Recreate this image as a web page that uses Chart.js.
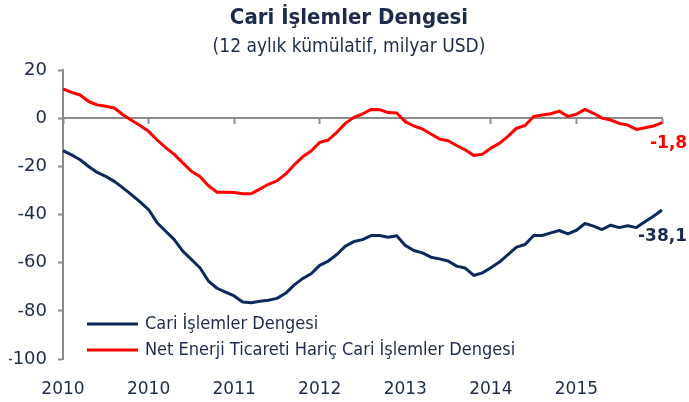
<!DOCTYPE html>
<html lang="tr">
<head>
<meta charset="utf-8">
<title>Cari İşlemler Dengesi</title>
<script src="https://cdn.jsdelivr.net/npm/chart.js@4.4.1/dist/chart.umd.min.js"></script>
<style>
  html, body { margin: 0; padding: 0; background: #fff; }
</style>
</head>
<body>
<canvas id="cariChart" width="689" height="402"></canvas>
<script>
// aylık seriler, Ocak 2010 - Kasım 2015
const months = [
    '2010-01', '2010-02', '2010-03', '2010-04', '2010-05', '2010-06', '2010-07', '2010-08', '2010-09', '2010-10', '2010-11', '2010-12',
    '2011-01', '2011-02', '2011-03', '2011-04', '2011-05', '2011-06', '2011-07', '2011-08', '2011-09', '2011-10', '2011-11', '2011-12',
    '2012-01', '2012-02', '2012-03', '2012-04', '2012-05', '2012-06', '2012-07', '2012-08', '2012-09', '2012-10', '2012-11', '2012-12',
    '2013-01', '2013-02', '2013-03', '2013-04', '2013-05', '2013-06', '2013-07', '2013-08', '2013-09', '2013-10', '2013-11', '2013-12',
    '2014-01', '2014-02', '2014-03', '2014-04', '2014-05', '2014-06', '2014-07', '2014-08', '2014-09', '2014-10', '2014-11', '2014-12',
    '2015-01', '2015-02', '2015-03', '2015-04', '2015-05', '2015-06', '2015-07', '2015-08', '2015-09', '2015-10', '2015-11'
];

const cariDenge = [
    -13.4, -15.2, -17.2, -20.0, -22.5, -24.1, -26.2, -28.9, -31.7, -34.7, -37.9,
    -43.4, -46.9, -50.4, -55.2, -58.6, -62.1, -67.6, -70.6, -72.2, -73.8, -76.3, -76.6,
    -76.0, -75.6, -74.8, -72.7, -69.3, -66.6, -64.6, -61.1, -59.3, -56.6, -53.1, -51.2, -50.4,
    -48.7, -48.7, -49.4, -48.8, -52.8, -54.9, -55.9, -57.7, -58.4, -59.3, -61.4, -62.2,
    -65.3, -64.2, -62.1, -59.7, -56.6, -53.5, -52.4, -48.7, -48.7, -47.6, -46.6, -48.0,
    -46.5, -43.7, -44.8, -46.2, -44.4, -45.4, -44.6, -45.4, -43.0, -40.7, -38.1
];

const enerjiHaricDenge = [
    12.2, 10.8, 9.7, 7.0, 5.6, 5.0, 4.3, 1.5, -0.8, -3.0, -5.4,
    -9.0, -12.2, -15.0, -18.5, -22.0, -24.2, -28.0, -30.7, -30.7, -30.8, -31.3, -31.3,
    -29.4, -27.4, -26.0, -23.2, -19.4, -16.0, -13.6, -10.0, -9.0, -5.8, -2.1, 0.4, 1.8,
    3.7, 3.6, 2.4, 2.2, -1.4, -3.2, -4.4, -6.5, -8.6, -9.3, -11.3, -13.1,
    -15.4, -14.9, -12.4, -10.4, -7.5, -4.1, -3.0, 0.8, 1.4, 1.9, 3.0, 0.8,
    1.7, 3.7, 2.1, 0.1, -0.7, -2.1, -2.8, -4.6, -3.9, -3.2, -1.8
];

const seriesNames = ['Cari İşlemler Dengesi', 'Net Enerji Ticareti Hariç Cari İşlemler Dengesi'];
const seriesColors = ['#0b2a5b', '#ff0000'];

const yMin = -100;
const yMax = 20;
const yStep = 20;
const tickEvery = 10; // her 10 ayda bir tik

const textColor = '#1c2b4b';
const axisColor = '#8c8c8c';
const condensed = "'DejaVu Sans Condensed', 'DejaVu Sans', sans-serif";
const plain = "'DejaVu Sans', sans-serif";

// legend drawn inside the plot, lower left
const icLegend = {
    id: 'icLegend',
    afterDraw(chart) {
        const ctx = chart.ctx;
        const area = chart.chartArea;
        const rows = [area.bottom - 35, area.bottom - 9];
        ctx.save();
        chart.data.datasets.forEach((ds, i) => {
            const y = rows[i];
            ctx.strokeStyle = ds.borderColor;
            ctx.lineWidth = 3;
            ctx.beginPath();
            ctx.moveTo(area.left + 24, y);
            ctx.lineTo(area.left + 75, y);
            ctx.stroke();
            ctx.fillStyle = textColor;
            ctx.font = '18px ' + condensed;
            ctx.textAlign = 'left';
            ctx.textBaseline = 'middle';
            ctx.fillText(ds.label, area.left + 82, y);
        });
        ctx.restore();
    }
};

// son değer etiketleri
const sonDeger = {
    id: 'sonDeger',
    afterDatasetsDraw(chart) {
        const ctx = chart.ctx;
        const shift = [{ dx: -24, dy: 27 }, { dx: -12, dy: 21 }];
        ctx.save();
        chart.data.datasets.forEach((ds, i) => {
            const meta = chart.getDatasetMeta(i);
            const last = meta.data[meta.data.length - 1];
            const v = ds.data[ds.data.length - 1];
            ctx.fillStyle = i === 0 ? textColor : ds.borderColor;
            ctx.font = 'bold 17px ' + plain;
            ctx.textAlign = 'left';
            ctx.textBaseline = 'middle';
            ctx.fillText(v.toFixed(1).replace('.', ','), last.x + shift[i].dx, last.y + shift[i].dy);
        });
        ctx.restore();
    }
};

const ctx = document.getElementById('cariChart').getContext('2d');

new Chart(ctx, {
    type: 'line',
    data: {
        labels: months,
        datasets: [
            {
                label: seriesNames[0],
                data: cariDenge,
                borderColor: seriesColors[0],
                backgroundColor: seriesColors[0],
                borderWidth: 3,
                pointRadius: 0,
                tension: 0,
                borderJoinStyle: 'round'
            },
            {
                label: seriesNames[1],
                data: enerjiHaricDenge,
                borderColor: seriesColors[1],
                backgroundColor: seriesColors[1],
                borderWidth: 3,
                pointRadius: 0,
                tension: 0,
                borderJoinStyle: 'round'
            }
        ]
    },
    options: {
        responsive: false,
        animation: false,
        layout: {
            padding: { left: 9, right: 0, top: 0, bottom: 0 }
        },
        plugins: {
            legend: { display: false },
            tooltip: { enabled: false },
            title: {
                display: true,
                text: 'Cari İşlemler Dengesi',
                color: textColor,
                font: { family: condensed, size: 22, weight: 'bold' },
                padding: { top: 5, bottom: 0 }
            },
            subtitle: {
                display: true,
                text: '(12 aylık kümülatif, milyar USD)',
                color: textColor,
                font: { family: condensed, size: 19 },
                padding: { top: 4, bottom: 12 }
            }
        },
        scales: {
            x: {
                position: 'bottom',
                grid: { display: false },
                border: { display: false },
                ticks: {
                    autoSkip: false,
                    maxRotation: 0,
                    padding: 12,
                    color: textColor,
                    font: { family: plain, size: 17 },
                    callback: function(value, index) {
                        if (index % tickEvery === 0 && index < months.length - 1) {
                            return months[index].slice(0, 4);
                        }
                        return '';
                    }
                },
                afterFit: function(scale) { scale.height = 43; }
            },
            sifir: {
                type: 'category',
                axis: 'x',
                position: { y: 0 },
                grid: {
                    display: true,
                    drawOnChartArea: false,
                    drawTicks: true,
                    tickLength: 5,
                    tickWidth: 2,
                    tickColor: function(c) {
                        return c.index % tickEvery === 0 ? axisColor : 'rgba(0,0,0,0)';
                    }
                },
                border: { display: true, color: axisColor, width: 2 },
                ticks: { display: false, autoSkip: false }
            },
            y: {
                position: 'left',
                min: yMin,
                max: yMax,
                grid: {
                    display: true,
                    drawOnChartArea: false,
                    tickLength: 5,
                    tickWidth: 2,
                    color: axisColor
                },
                border: { display: true, color: axisColor, width: 2 },
                ticks: {
                    stepSize: yStep,
                    padding: 11,
                    color: textColor,
                    font: { family: plain, size: 18 }
                },
                afterFit: function(scale) { scale.width = 54; }
            },
            // boş sağ kenar, son değer etiketleri için
            bosluk: {
                type: 'linear',
                axis: 'y',
                position: 'right',
                grid: { display: false },
                border: { display: false },
                ticks: { display: false },
                afterFit: function(scale) { scale.width = 27; }
            }
        }
    },
    plugins: [icLegend, sonDeger]
});
</script>
</body>
</html>
